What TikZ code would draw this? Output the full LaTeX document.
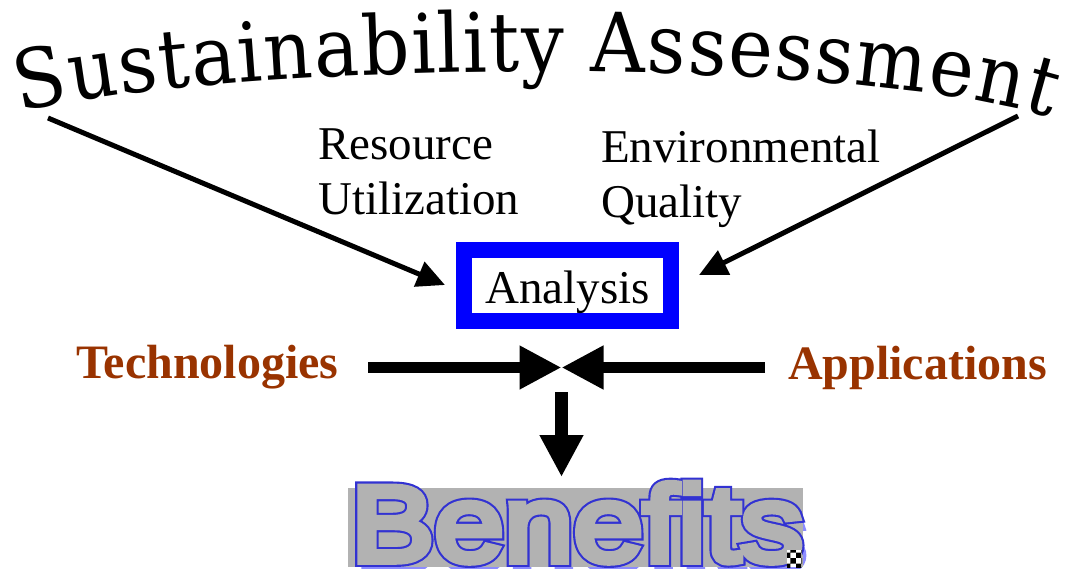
\documentclass[tikz,border=0pt]{standalone}
\usepackage{fontspec}
\usetikzlibrary{arrows.meta,decorations.text,patterns}
\setmainfont{Liberation Serif}
\newfontfamily\titlefont[FakeStretch=0.92]{DejaVu Serif}
\newfontfamily\benblue[FakeStretch=1.17,FakeBold=11]{Liberation Sans}
\newfontfamily\bengray[FakeStretch=1.17,FakeBold=7]{Liberation Sans}
\definecolor{brownred}{RGB}{153,51,0}
\definecolor{boxblue}{RGB}{0,0,255}
\definecolor{outblue}{RGB}{50,50,210}
\definecolor{shadowblue}{RGB}{140,140,255}
\definecolor{bengrey}{RGB}{178,178,178}
\tikzset{
  lbl/.style={inner sep=0pt, font=\fontsize{47}{55}\selectfont},
  sidelbl/.style={inner sep=0pt, text=brownred, font=\fontsize{48}{55}\selectfont\bfseries},
  thinarrow/.style={line width=5pt, -{Triangle[length=28pt,width=26pt]}},
  fatarrow/.style={line width=11pt, -{Triangle[length=42pt,width=41pt]}},
  benstyle/.style={inner sep=0pt, anchor=base}
}
\begin{document}
\begin{tikzpicture}[x=1pt,y=-1pt]
\useasboundingbox (0,0) rectangle (1073,569);
% title along arch
\path[decorate, decoration={text along path,
  text={|\titlefont\fontsize{82}{82}\selectfont|Sustainability Assessment},
  text align={fit to path}}]
  (20,112) .. controls (260,57) and (860,57) .. (1050,118);
% coordinates
\coordinate (tl) at (48,118);
\coordinate (tr) at (1018,116);
\coordinate (tlend) at (445,285);
\coordinate (trend) at (699,275);
\coordinate (techend) at (368,367.5);
\coordinate (append) at (765,367.5);
\coordinate (meet) at (561.5,367.5);
\coordinate (downstart) at (561.5,392);
\coordinate (downend) at (561.5,477);
% labels
\node[lbl, anchor=base west] (res1) at (318,160) {Resource};
\node[lbl, anchor=base west] (res2) at (318,215) {Utilization};
\node[lbl, anchor=base west] (env1) at (601,163) {Environmental};
\node[lbl, anchor=base west] (env2) at (601,218) {Quality};
% analysis box
\node[draw=boxblue, line width=16pt, minimum width=207pt, minimum height=71pt, inner sep=0pt] (analysis) at (567.5,285.5) {};
\node[lbl, anchor=base] (analysistext) at (567.5,303) {Analysis};
% arrows from title
\draw[thinarrow] (tl) -- (tlend);
\draw[thinarrow] (tr) -- (trend);
% side labels
\node[sidelbl, anchor=base west] (tech) at (76,378) {Technologies};
\node[sidelbl, anchor=base east] (apps) at (1047,379) {Applications};
\draw[fatarrow] (techend) -- (meet);
\draw[fatarrow] (append) -- (meet);
\draw[fatarrow, line width=13pt] (downstart) -- (downend);
% benefits
\node[benstyle, text=shadowblue, font=\bengray\fontsize{107}{107}\selectfont] (benshadow) at (581,571) {Benefits};
\fill[bengrey] (348,488) rectangle (803,567);
\node[benstyle, text=outblue, font=\benblue\fontsize{107}{107}\selectfont] (benout) at (577,561) {Benefits};
\node[benstyle, text=bengrey, font=\bengray\fontsize{107}{107}\selectfont] (benefits) at (577,561) {Benefits};
\fill[white] (787,550) rectangle (802,567);
\fill[pattern=checkerboard, pattern color=black] (787,550) rectangle (802,567);
\end{tikzpicture}
\end{document}
